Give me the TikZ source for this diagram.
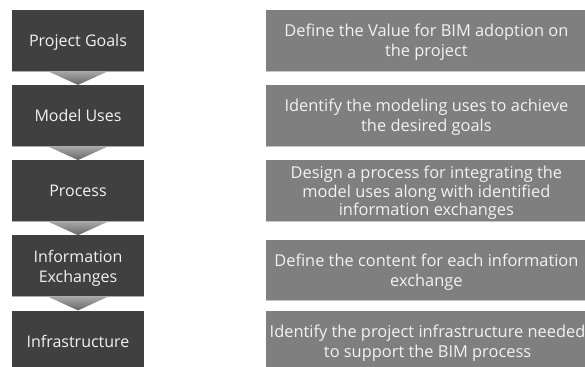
\documentclass[tikz,border=0pt]{standalone}
\usepackage{fontspec}
\setmainfont{Open Sans}
\usetikzlibrary{positioning,calc}
\definecolor{stagegray}{HTML}{404040}
\definecolor{descgray}{HTML}{7F7F7F}
\definecolor{textwhite}{HTML}{F2F2F2}
\begin{document}
\begin{tikzpicture}[node distance=13.75pt and 122pt,
    stage/.style={rectangle, fill=stagegray, text=textwhite, text depth=0pt, minimum width=132pt, minimum height=61pt, align=center, font=\fontsize{16}{20}\selectfont},
    desc/.style={rectangle, fill=descgray, text=textwhite, text depth=0pt, minimum width=320pt, minimum height=61pt, align=center, font=\fontsize{16.4}{20}\selectfont},
    chevron/.style={top color=black!35, bottom color=black!60, draw=none}]
    \clip (0,0) rectangle (585pt,-366pt);
    \node (goals) [stage] at (78pt,-40.5pt) {Project Goals};
    \node (uses) [stage, below=of goals] {Model Uses};
    \node (process) [stage, below=of uses] {Process};
    \node (exchanges) [stage, below=of process] {Information\\Exchanges};
    \node (infra) [stage, below=of exchanges] {Infrastructure};
    \node (goalsD) [desc, right=of goals] {Define the Value for BIM adoption on\\the project};
    \node (usesD) [desc, right=of uses] {Identify the modeling uses to achieve\\the desired goals};
    \node (processD) [desc, right=of process, font=\fontsize{16.4}{18.5}\selectfont] {Design a process for integrating the\\model uses along with identified\\information exchanges};
    \node (exchangesD) [desc, right=of exchanges, yshift=-4.5pt, minimum height=60pt] {Define the content for each information\\exchange};
    \node (infraD) [desc, right=of infra] {Identify the project infrastructure needed\\to support the BIM process};
    \foreach \n in {goals,uses,process,exchanges}
        \draw[gray!65, line width=1pt] (\n.south west) -- (\n.south east);
    \foreach \n in {goalsD,usesD,processD,exchangesD}
        \draw[gray!45, line width=1pt] (\n.south west) -- (\n.south east);
    \foreach \a/\b in {goals/uses,uses/process,process/exchanges,exchanges/infra}
        \shade[chevron] ($(\a.south)+(-29pt,-0.5pt)$) -- ($(\a.south)+(29pt,-0.5pt)$) -- (\b.north) -- cycle;
\end{tikzpicture}
\end{document}
